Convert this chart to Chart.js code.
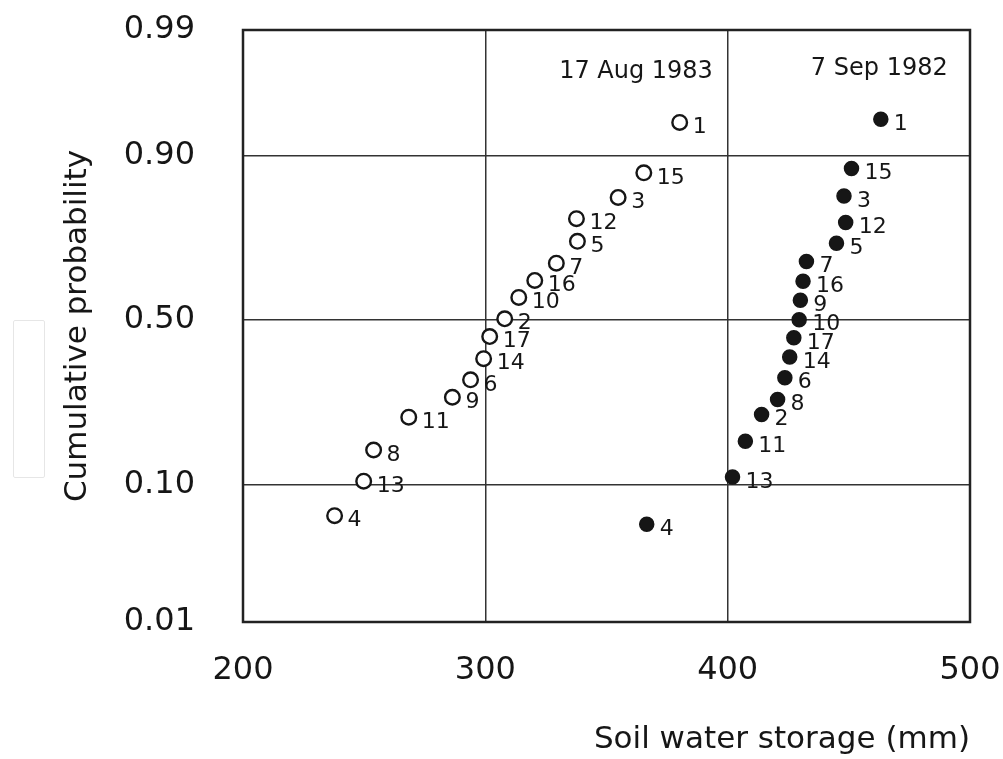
<!DOCTYPE html>
<html>
<head>
<meta charset="utf-8">
<script src="https://cdn.jsdelivr.net/npm/chart.js@4.4.0/dist/chart.umd.min.js"></script>
<style>
  html, body { margin: 0; padding: 0; background: #fff; }
  #wrap { position: relative; width: 1003px; height: 759px; }
  #ghost { position: absolute; left: 13px; top: 320px; width: 30px; height: 156px; border: 1px solid #e6e6e6; border-radius: 2px; }
</style>
</head>
<body>
<div id="wrap">
  <canvas id="chart" width="1003" height="759"></canvas>
  <div id="ghost"></div>
</div>
<script>
// ---- data ----
// 17 Aug 1983 (open circles)
const aug83Labels  = ['4', '13', '8', '11', '9', '6', '14', '17', '2', '10', '16', '7', '5', '12', '3', '15', '1'];
const aug83Storage = [237.8, 249.8, 253.9, 268.4, 286.4, 293.9, 299.3, 301.8, 308.0, 313.8, 320.4, 329.3, 338.0, 337.6, 354.8, 365.4, 380.2];
const aug83Prob    = [0.064, 0.105, 0.156, 0.225, 0.274, 0.321, 0.382, 0.449, 0.504, 0.570, 0.621, 0.671, 0.730, 0.785, 0.830, 0.874, 0.938];

// 7 Sep 1982 (filled circles)
const sep82Labels  = ['4', '13', '11', '2', '8', '6', '14', '17', '10', '9', '16', '7', '5', '12', '3', '15', '1'];
const sep82Storage = [366.6, 402.0, 407.3, 414.0, 420.6, 423.6, 425.6, 427.3, 429.5, 430.0, 431.1, 432.5, 444.9, 448.7, 448.0, 451.1, 463.2];
const sep82Prob    = [0.056, 0.111, 0.173, 0.231, 0.268, 0.327, 0.387, 0.445, 0.501, 0.561, 0.619, 0.676, 0.725, 0.776, 0.833, 0.881, 0.941];

const probTicks      = [0.01, 0.10, 0.50, 0.90, 0.99];
const probTickLabels = ['0.01', '0.10', '0.50', '0.90', '0.99'];
const xTicks         = [200, 300, 400, 500];

const FONT = "'DejaVu Sans', sans-serif";
const INK  = '#161616';

// inverse normal CDF (Acklam) -> probability paper
function probit(p) {
    const a = [-3.969683028665376e+01, 2.209460984245205e+02, -2.759285104469687e+02, 1.383577518672690e+02, -3.066479806614716e+01, 2.506628277459239e+00];
    const b = [-5.447609879822406e+01, 1.615858368580409e+02, -1.556989798598866e+02, 6.680131188771972e+01, -1.328068155288572e+01];
    const c = [-7.784894002430293e-03, -3.223964580411365e-01, -2.400758277161838e+00, -2.549732539343734e+00, 4.374664141464968e+00, 2.938163982698783e+00];
    const d = [7.784695709041462e-03, 3.224671290700398e-01, 2.445134137142996e+00, 3.754408661907416e+00];
    const pl = 0.02425;
    let q, r;
    if (p < pl) {
        q = Math.sqrt(-2 * Math.log(p));
        return (((((c[0]*q+c[1])*q+c[2])*q+c[3])*q+c[4])*q+c[5]) / ((((d[0]*q+d[1])*q+d[2])*q+d[3])*q+1);
    }
    if (p > 1 - pl) {
        q = Math.sqrt(-2 * Math.log(1 - p));
        return -(((((c[0]*q+c[1])*q+c[2])*q+c[3])*q+c[4])*q+c[5]) / ((((d[0]*q+d[1])*q+d[2])*q+d[3])*q+1);
    }
    q = p - 0.5; r = q * q;
    return (((((a[0]*r+a[1])*r+a[2])*r+a[3])*r+a[4])*r+a[5])*q / (((((b[0]*r+b[1])*r+b[2])*r+b[3])*r+b[4])*r+1);
}

// the drawn frame runs a little short of 0.01 / 0.99, edge labels sit on the frame
const yMin = probit(0.0094);
const yMax = probit(0.988);
const tickValue = (p, i) => i === 0 ? yMin : (i === probTicks.length - 1 ? yMax : probit(p));

const toPoints = (xs, ps) => xs.map((x, i) => ({ x, y: probit(ps[i]) }));

const annotations = [
    { text: '17 Aug 1983', x: 393.9, p: 0.970 },
    { text: '7 Sep 1982',  x: 490.8, p: 0.9715 }
];

// no extra room for tick labels, the plot box is pinned
const pinPadding = s => { s.paddingLeft = 0; s.paddingRight = 0; s.paddingTop = 0; s.paddingBottom = 0; };

// frame round the plot area
const framePlugin = {
    id: 'frame',
    afterDraw(chart) {
        const { ctx, chartArea: a } = chart;
        ctx.save();
        ctx.strokeStyle = '#222';
        ctx.lineWidth = 2.5;
        ctx.strokeRect(a.left, a.top, a.right - a.left, a.bottom - a.top);
        ctx.restore();
    }
};

// sample numbers next to each circle + the two date captions
const labelPlugin = {
    id: 'pointLabels',
    afterDatasetsDraw(chart) {
        const { ctx, scales } = chart;
        ctx.save();
        ctx.fillStyle = INK;
        ctx.font = `22px ${FONT}`;
        ctx.textAlign = 'left';
        ctx.textBaseline = 'middle';
        chart.data.datasets.forEach((ds, di) => {
            const meta = chart.getDatasetMeta(di);
            meta.data.forEach((pt, i) => {
                ctx.fillText(ds.pointNames[i], pt.x + 13, pt.y + 5);
            });
        });
        ctx.font = `24px ${FONT}`;
        ctx.textAlign = 'right';
        ctx.textBaseline = 'alphabetic';
        annotations.forEach(an => {
            ctx.fillText(an.text, scales.x.getPixelForValue(an.x), scales.y.getPixelForValue(probit(an.p)));
        });
        ctx.restore();
    }
};

const ctx = document.getElementById('chart').getContext('2d');
new Chart(ctx, {
    type: 'scatter',
    data: {
        datasets: [
            {
                label: '17 Aug 1983',
                data: toPoints(aug83Storage, aug83Prob),
                pointNames: aug83Labels,
                pointRadius: 7.3,
                pointBorderWidth: 2.4,
                borderColor: INK,
                backgroundColor: '#fff'
            },
            {
                label: '7 Sep 1982',
                data: toPoints(sep82Storage, sep82Prob),
                pointNames: sep82Labels,
                pointRadius: 7,
                pointBorderWidth: 1.5,
                borderColor: INK,
                backgroundColor: INK
            }
        ]
    },
    options: {
        responsive: false,
        animation: false,
        layout: { autoPadding: false, padding: { top: 30, right: 33, left: 0, bottom: 0 } },
        plugins: { legend: { display: false }, tooltip: { enabled: false } },
        scales: {
            x: {
                type: 'linear', min: 200, max: 500,
                afterBuildTicks: s => { s.ticks = xTicks.map(v => ({ value: v })); },
                afterFit: s => { s.height = 137; pinPadding(s); },
                ticks: { padding: 29, color: INK, font: { family: FONT, size: 32 } },
                grid: { color: '#333', lineWidth: 1.5, drawTicks: false },
                border: { display: false },
                title: {
                    display: true, text: 'Soil water storage (mm)', align: 'end',
                    color: INK, font: { family: FONT, size: 31 }, padding: { top: 0, bottom: 0 }
                }
            },
            y: {
                type: 'linear', min: yMin, max: yMax,
                afterBuildTicks: s => { s.ticks = probTicks.map((p, i) => ({ value: tickValue(p, i) })); },
                afterFit: s => { s.width = 243; pinPadding(s); },
                ticks: {
                    padding: 48, color: INK, font: { family: FONT, size: 32 },
                    callback: (v, i) => probTickLabels[i]
                },
                grid: { color: '#333', lineWidth: 1.5, drawTicks: false },
                border: { display: false },
                title: {
                    display: true, text: 'Cumulative probability',
                    color: INK, font: { family: FONT, size: 31 }, padding: { top: 59, bottom: 0 }
                }
            }
        }
    },
    plugins: [framePlugin, labelPlugin]
});
</script>
</body>
</html>
